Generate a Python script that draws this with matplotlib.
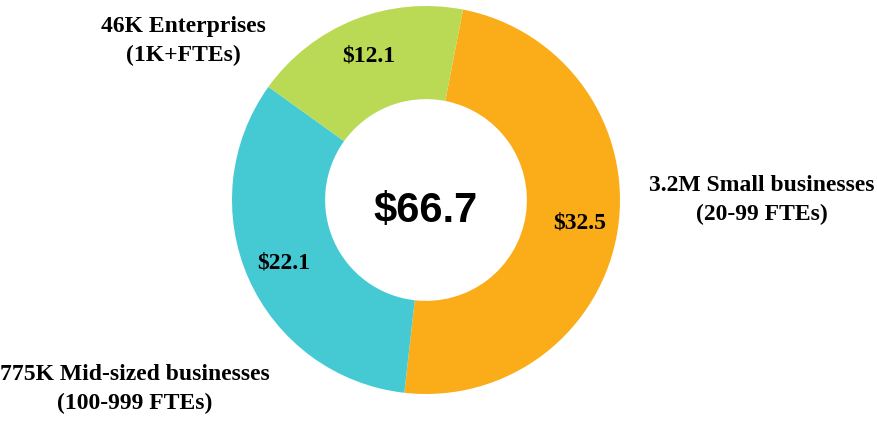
import matplotlib
matplotlib.use("Agg")
import matplotlib.pyplot as plt

categories = ["3.2M Small businesses\n(20-99 FTEs)",
              "775K Mid-sized businesses\n(100-999 FTEs)",
              "46K Enterprises\n(1K+FTEs)"]
values = [32.5, 22.1, 12.1]
total_label = "$66.7"
colors = ["#FAAD19", "#45CAD3", "#BAD954"]

total = sum(values)

fig = plt.figure(figsize=(8.78, 4.33), dpi=100)
ax = fig.add_axes([0, 0, 1, 1])

wedges, texts, autotexts = ax.pie(
    values, colors=colors, startangle=79, counterclock=False,
    center=(426, 233), radius=194, frame=True,
    wedgeprops=dict(width=194 * 0.48, edgecolor="none"),
    autopct=lambda p: f"${p * total / 100:.1f}", pctdistance=0.80,
    textprops=dict(family="Liberation Serif", fontweight="bold",
                   fontsize=17, color="black"))

ax.set_xlim(0, 878)
ax.set_ylim(0, 433)
ax.set_aspect("equal")
ax.axis("off")

ax.text(426, 222, total_label, ha="center", va="center",
        family="Liberation Sans", fontweight="bold", fontsize=30)

label_pos = [(762, 433 - 200), (135, 433 - 389), (183, 433 - 41)]
for (x, y), lab in zip(label_pos, categories):
    ax.text(x, y, lab, ha="center", va="center", family="Liberation Serif",
            fontweight="bold", fontsize=17, linespacing=1.45)

fig.savefig("out.png", dpi=100)
